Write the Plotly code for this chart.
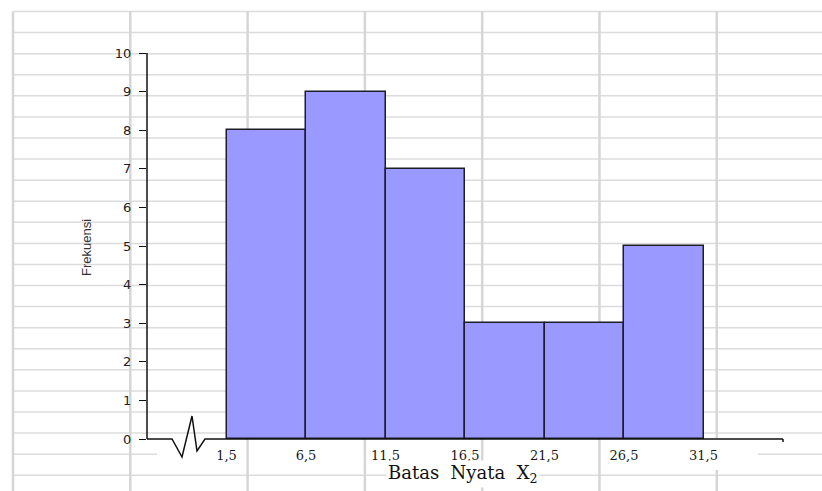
import plotly.graph_objects as go

# ---- data ----
bin_edges = [1.5, 6.5, 11.5, 16.5, 21.5, 26.5, 31.5]
frekuensi = [8, 9, 7, 3, 3, 5]
x_tick_labels = ["1,5", "6,5", "11,5", "16,5", "21,5", "26,5", "31,5"]
y_ticks = list(range(0, 11))

centers = [(a + b) / 2 for a, b in zip(bin_edges[:-1], bin_edges[1:])]
widths = [b - a for a, b in zip(bin_edges[:-1], bin_edges[1:])]

W, H = 822, 491
L, R, T, B = 147, 39, 53, 52
PW, PH = W - L - R, H - T - B


def pxx(px):
    return (px - L) / PW


def pxy(py):
    return (H - B - py) / PH


fig = go.Figure()
fig.add_trace(go.Bar(
    x=centers, y=frekuensi, width=widths,
    marker=dict(color="#9999ff", line=dict(color="#1c1c2a", width=1.5)),
    hoverinfo="skip", showlegend=False,
))

shapes = []
GRID_H = "#dcdcdc"
GRID_V = "#d6d6d6"
# spreadsheet-like background grid
for k in range(23):
    y = 11.5 + 21.08 * k
    segs = [(13, W)]
    if k == 21:
        segs = [(13, 157), (758, W)]
    for x0, x1 in segs:
        shapes.append(dict(type="line", xref="paper", yref="paper", layer="below",
                           x0=pxx(x0), x1=pxx(x1), y0=pxy(y), y1=pxy(y),
                           line=dict(color=GRID_H, width=1.5)))
for k in range(7):
    x = 13 + 117.3 * k
    segs = [(11.5, H)]
    if k == 6:
        segs = [(11.5, 438), (470, H)]
    for y0, y1 in segs:
        shapes.append(dict(type="line", xref="paper", yref="paper", layer="below",
                           x0=pxx(x), x1=pxx(x), y0=pxy(y0), y1=pxy(y1),
                           line=dict(color=GRID_V, width=2.5)))

# y axis line
shapes.append(dict(type="line", xref="paper", yref="paper", x0=0, x1=0, y0=0, y1=1,
                   line=dict(color="#111", width=1.5)))
# x axis line with break (zigzag)
pts = [(147, 439), (172, 439), (182, 457), (192, 416), (197, 451), (205, 439), (783, 439)]
path = "M " + " L ".join(f"{pxx(a):.5f},{pxy(b):.5f}" for a, b in pts)
shapes.append(dict(type="path", xref="paper", yref="paper", path=path,
                   line=dict(color="#111", width=1.5)))
shapes.append(dict(type="line", xref="paper", yref="paper", x0=1, x1=1, y0=pxy(439), y1=pxy(442),
                   line=dict(color="#111", width=1.5)))

annotations = [
    dict(text="Frekuensi", x=pxx(86), y=pxy(248), xref="paper", yref="paper",
         xanchor="center", yanchor="middle",
         showarrow=False, textangle=-90,
         font=dict(family="Liberation Sans Narrow, Arial Narrow, Liberation Sans, sans-serif",
                   size=13, color="#333")),
    dict(text="Batas&nbsp;&nbsp;Nyata&nbsp;&nbsp;X<sub>2</sub>", x=pxx(463), y=pxy(474),
         xref="paper", yref="paper", showarrow=False, bgcolor="white",
         xanchor="center", yanchor="middle",
         font=dict(family="DejaVu Serif, Liberation Serif, serif", size=18, color="#111")),
]

fig.update_layout(
    width=W, height=H,
    margin=dict(l=L, r=R, t=T, b=B, pad=0),
    paper_bgcolor="white", plot_bgcolor="rgba(0,0,0,0)",
    bargap=0,
    shapes=shapes, annotations=annotations,
    xaxis=dict(range=[-3.5, 36.5], showgrid=False, zeroline=False, showline=False,
               ticks="", tickmode="array", tickvals=bin_edges, ticktext=x_tick_labels,
               tickfont=dict(family="DejaVu Serif, Liberation Serif, serif", size=13, color="#1a1a1a"),
               ticklabelstandoff=7),
    yaxis=dict(range=[0, 10], showgrid=False, zeroline=False, showline=False,
               ticks="outside", ticklen=7, tickwidth=1.3, tickcolor="#111",
               tickmode="array", tickvals=y_ticks,
               tickfont=dict(family="DejaVu Sans, Liberation Sans, sans-serif", size=13, color="#222"),
               ticklabelstandoff=5),
)

fig.write_html("out.html", config={"displayModeBar": False},
               post_script="document.body.style.margin='0';document.body.style.overflow='hidden';")
